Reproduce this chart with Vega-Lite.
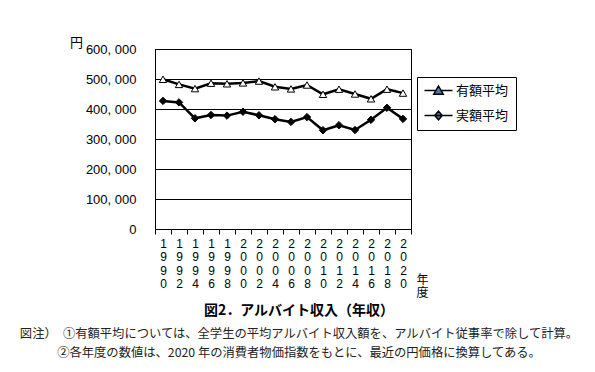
{
  "$schema": "https://vega.github.io/schema/vega-lite/v6.json",
  "width": 256,
  "height": 180,
  "autosize": {"type": "none"},
  "padding": {"left": 155, "top": 49, "right": 184, "bottom": 143},
  "background": "white",
  "config": {
    "view": {"stroke": "black", "strokeWidth": 1},
    "font": "Noto Sans CJK JP",
    "legend": {"strokeColor": "black", "fillColor": "white"}
  },
  "title": {
    "text": "図2．アルバイト収入（年収）",
    "subtitle": [
      "図注）　①有額平均については、全学生の平均アルバイト収入額を、アルバイト従事率で除して計算。",
      "②各年度の数値は、2020 年の消費者物価指数をもとに、最近の円価格に換算してある。　　　"
    ],
    "orient": "bottom",
    "anchor": "middle",
    "dx": 16,
    "offset": 6,
    "font": "Noto Sans CJK JP",
    "fontSize": 14,
    "fontWeight": "bold",
    "color": "black",
    "subtitleFont": "Noto Sans CJK JP",
    "subtitleFontSize": 12.3,
    "subtitleLineHeight": 19,
    "subtitlePadding": 10,
    "subtitleColor": "#222"
  },
  "data": {
    "values": [
      {"year": "1990", "series": "有額平均", "value": 499000},
      {"year": "1992", "series": "有額平均", "value": 482000},
      {"year": "1994", "series": "有額平均", "value": 468000},
      {"year": "1996", "series": "有額平均", "value": 486000},
      {"year": "1998", "series": "有額平均", "value": 484000},
      {"year": "2000", "series": "有額平均", "value": 487000},
      {"year": "2002", "series": "有額平均", "value": 493000},
      {"year": "2004", "series": "有額平均", "value": 474000},
      {"year": "2006", "series": "有額平均", "value": 467000},
      {"year": "2008", "series": "有額平均", "value": 480000},
      {"year": "2010", "series": "有額平均", "value": 449000},
      {"year": "2012", "series": "有額平均", "value": 466000},
      {"year": "2014", "series": "有額平均", "value": 450000},
      {"year": "2016", "series": "有額平均", "value": 434000},
      {"year": "2018", "series": "有額平均", "value": 466000},
      {"year": "2020", "series": "有額平均", "value": 453000},
      {"year": "1990", "series": "実額平均", "value": 427000},
      {"year": "1992", "series": "実額平均", "value": 422000},
      {"year": "1994", "series": "実額平均", "value": 369000},
      {"year": "1996", "series": "実額平均", "value": 380000},
      {"year": "1998", "series": "実額平均", "value": 378000},
      {"year": "2000", "series": "実額平均", "value": 391000},
      {"year": "2002", "series": "実額平均", "value": 379000},
      {"year": "2004", "series": "実額平均", "value": 366000},
      {"year": "2006", "series": "実額平均", "value": 357000},
      {"year": "2008", "series": "実額平均", "value": 373000},
      {"year": "2010", "series": "実額平均", "value": 329000},
      {"year": "2012", "series": "実額平均", "value": 346000},
      {"year": "2014", "series": "実額平均", "value": 330000},
      {"year": "2016", "series": "実額平均", "value": 364000},
      {"year": "2018", "series": "実額平均", "value": 404000},
      {"year": "2020", "series": "実額平均", "value": 367000}
    ]
  },
  "encoding": {
    "x": {
      "field": "year",
      "type": "ordinal",
      "sort": null,
      "scale": {"type": "band", "paddingInner": 0, "paddingOuter": 0},
      "axis": {
        "title": ["年", "度"],
        "titleX": 267,
        "titleY": 45,
        "titleAlign": "center",
        "titleBaseline": "top",
        "titleFont": "Noto Sans CJK JP",
        "titleFontSize": 12,
        "titleFontWeight": "normal",
        "titleLineHeight": 13,
        "titleColor": "black",
        "labelAngle": 0,
        "labelExpr": "split(datum.label, '')",
        "labelFont": "Liberation Sans",
        "labelFontSize": 12,
        "labelLineHeight": 13.5,
        "labelPadding": 4,
        "labelColor": "black",
        "tickBand": "extent",
        "ticks": true,
        "tickSize": 5,
        "tickColor": "black",
        "domain": false,
        "grid": false
      }
    },
    "y": {
      "field": "value",
      "type": "quantitative",
      "scale": {"domain": [0, 600000]},
      "axis": {
        "title": "円",
        "titleAngle": 0,
        "titleX": -79,
        "titleY": -7,
        "titleAlign": "center",
        "titleBaseline": "middle",
        "titleFont": "Noto Sans CJK JP",
        "titleFontSize": 13,
        "titleFontWeight": "normal",
        "titleColor": "black",
        "values": [0, 100000, 200000, 300000, 400000, 500000, 600000],
        "labelExpr": "replace(format(datum.value, ','), ',', ', ')",
        "labelFont": "Liberation Sans",
        "labelFontSize": 13,
        "labelColor": "black",
        "labelPadding": 19,
        "ticks": false,
        "domain": false,
        "grid": true,
        "gridColor": "black",
        "gridOpacity": 1
      }
    }
  },
  "resolve": {"scale": {"shape": "independent"}},
  "layer": [
    {
      "mark": {"type": "line", "color": "black", "strokeWidth": 2.5},
      "encoding": {"detail": {"field": "series"}}
    },
    {
      "mark": {"type": "point", "filled": true, "stroke": "black", "strokeWidth": 1, "opacity": 1, "size": 55},
      "encoding": {
        "shape": {
          "field": "series",
          "type": "nominal",
          "scale": {"domain": ["有額平均", "実額平均"], "range": ["triangle-up", "diamond"]},
          "legend": null
        },
        "fill": {
          "field": "series",
          "type": "nominal",
          "scale": {"domain": ["有額平均", "実額平均"], "range": ["white", "black"]},
          "legend": null
        }
      }
    },
    {
      "mark": {"type": "point", "filled": true, "opacity": 0, "stroke": "black", "strokeWidth": 1.6, "size": 100},
      "encoding": {
        "shape": {
          "field": "series",
          "type": "nominal",
          "scale": {
            "domain": ["有額平均", "実額平均"],
            "range": ["M-1.2,0H1.05M2.15,0H4.4M1.6,-0.9L2.55,0.75L0.65,0.75Z", "M-1.2,0H4.4M1.6,-0.85L2.35,0L1.6,0.85L0.85,0Z"]
          },
          "legend": {
            "title": null,
            "orient": "none",
            "legendX": 262,
            "legendY": 28,
            "strokeColor": "black",
            "fillColor": "white",
            "padding": 7,
            "labelFont": "Noto Sans CJK JP",
            "labelFontSize": 13,
            "labelColor": "black",
            "symbolSize": 100,
            "labelOffset": 19,
            "rowPadding": 10,
            "encode": {
              "symbols": {
                "fill": {
                  "condition": {"test": "datum.value === '有額平均'", "value": "white"},
                  "value": "black"
                },
                "stroke": {"value": "black"},
                "strokeWidth": {"value": 1.6},
                "opacity": {"value": 1}
              }
            }
          }
        }
      }
    }
  ]
}
